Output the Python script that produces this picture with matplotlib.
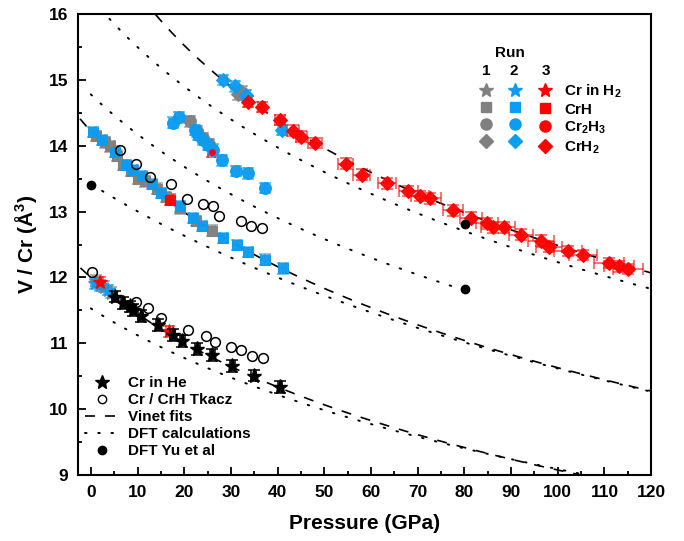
import numpy as np
import matplotlib.pyplot as plt
from matplotlib.lines import Line2D
from matplotlib.ticker import MultipleLocator

plt.rcParams['font.family'] = ['Liberation Sans', 'DejaVu Sans']
plt.rcParams['font.weight'] = 'bold'
plt.rcParams['mathtext.default'] = 'regular'

GREY = '#808080'
BLUE = '#0c9cf0'
RED = '#ff0000'

# Cr in He (black stars)
he_p = [5.1, 6.9, 8.4, 9.1, 10.7, 14.4, 17.5, 19.6, 22.8, 26.0, 30.3, 34.9, 40.5]
he_v = [11.71, 11.61, 11.56, 11.51, 11.42, 11.28, 11.12, 11.04, 10.91, 10.82, 10.66, 10.51, 10.34]

# Tkacz, Cr and CrH (open circles)
tk_cr_p = [0.15, 9.6, 12.3, 15.1, 20.9, 24.6, 26.6, 30.1, 32.1, 34.6, 36.8]
tk_cr_v = [12.08, 11.63, 11.53, 11.39, 11.2, 11.11, 11.02, 10.95, 10.9, 10.8, 10.78]
tk_crh_p = [6.2, 9.6, 12.6, 17.1, 20.5, 24.1, 26.1, 27.5, 32.1, 34.2, 36.6]
tk_crh_v = [13.94, 13.73, 13.52, 13.42, 13.19, 13.11, 13.09, 12.94, 12.86, 12.78, 12.75]

# DFT Yu et al
yu_p = [0.0, 80.1, 80.1]
yu_v = [13.41, 12.81, 11.82]

# Cr in H2 (stars), runs 1-3
cr1_p = [1.2, 2.8, 4.4]
cr1_v = [11.95, 11.86, 11.77]
cr2_p = [0.9, 2.0, 3.7]
cr2_v = [11.91, 11.88, 11.81]
cr3_p = [1.9, 16.8]
cr3_v = [11.93, 11.18]

# CrH (squares)
crh1_p = [1.2, 3.0, 4.1, 5.6, 6.9, 8.5, 10.2, 11.6, 14.1, 16.0, 19.1, 22.5, 25.9]
crh1_v = [14.15, 14.05, 13.99, 13.85, 13.71, 13.62, 13.5, 13.46, 13.35, 13.22, 13.05, 12.86, 12.71]
crh2_p = [0.4, 2.3, 5.1, 7.6, 9.1, 10.9, 13.0, 15.1, 19.1, 21.8, 23.9, 28.4, 31.2, 33.7, 37.3, 41.1]
crh2_v = [14.21, 14.09, 13.91, 13.71, 13.63, 13.54, 13.42, 13.28, 13.08, 12.90, 12.78, 12.6, 12.49, 12.39, 12.27, 12.14]
crh3_p = [16.9]
crh3_v = [13.18]

# Cr2H3 (circles)
c23_1_p = [21.2, 22.8, 24.0, 25.3]
c23_1_v = [14.37, 14.22, 14.12, 14.02]
c23_2_p = [17.5, 18.9, 22.3, 23.0, 24.1, 25.1, 26.2, 28.1, 31.0, 33.7, 37.2]
c23_2_v = [14.35, 14.43, 14.24, 14.16, 14.09, 14.01, 13.94, 13.78, 13.62, 13.58, 13.36]
c23_3_p = [25.9]
c23_3_v = [13.91]

# CrH2 (diamonds)
crh2d1_p = [31.6, 32.4]
crh2d1_v = [14.78, 14.82]
crh2d2_p = [28.4, 30.9, 33.2, 40.9]
crh2d2_v = [15.0, 14.9, 14.77, 14.24]
crh2d3_p = [33.7, 36.6, 40.5, 43.3, 45.1, 48.0, 54.6, 58.0, 63.4, 68.0, 70.5, 72.7, 77.6,
            81.4, 84.8, 86.1, 88.4, 92.1, 96.4, 98.2, 102.1, 105.5, 110.9, 113.2, 115.1]
crh2d3_v = [14.67, 14.59, 14.39, 14.23, 14.14, 14.04, 13.73, 13.56, 13.43, 13.31, 13.24, 13.2, 13.02,
            12.91, 12.82, 12.76, 12.76, 12.65, 12.56, 12.46, 12.4, 12.34, 12.22, 12.17, 12.13]
crh2d3_perr = [0.8, 0.8, 1.0, 1.2, 1.2, 1.5, 1.6, 1.8, 2.0, 2.0, 2.0, 2.2, 2.2,
               2.4, 2.4, 2.5, 2.5, 2.6, 2.8, 2.8, 3.0, 3.0, 3.2, 3.2, 3.2]

# Vinet parameters V0 (A^3), K0 (GPa), K0'
vinet_v0 = [12.0, 14.22, 17.5]
vinet_k0 = [190.0, 180.0, 120.0]
vinet_kp = [4.7, 4.61, 5.6]
# DFT curves (Cr, CrH, Cr2H3, CrH2) + max pressure of each calculation
dft_v0 = [11.53, 13.42, 14.78, 16.25]
dft_k0 = [257.0, 303.0, 218.0, 190.0]
dft_kp = [4.26, 3.0, 4.5, 4.5]
dft_pmax = [130.0, 130.0, 82.0, 130.0]


def vinet_p(v, v0, k0, kp):
    x = (v / v0) ** (1.0 / 3.0)
    return 3.0 * k0 * (1.0 - x) / x ** 2 * np.exp(1.5 * (kp - 1.0) * (1.0 - x))


fig = plt.figure(figsize=(6.84, 5.41), dpi=100)
ax = fig.add_axes([0.114, 0.122, 0.838, 0.852])

for v0, k0, kp in zip(vinet_v0, vinet_k0, vinet_kp):
    v = np.linspace(v0 * 1.03, v0 * 0.65, 600)
    p = vinet_p(v, v0, k0, kp)
    ax.plot(p, v, color='k', lw=1.2, ls=(0, (6, 6)), zorder=2)

for v0, k0, kp, pm in zip(dft_v0, dft_k0, dft_kp, dft_pmax):
    v = np.linspace(v0, v0 * 0.65, 600)
    p = vinet_p(v, v0, k0, kp)
    m = p <= pm
    ax.plot(p[m], v[m], color='k', lw=1.4, ls=(0, (0.8, 6)), dash_capstyle='round', zorder=2)


def run_pts(p, v, marker, color, ms, perr=0.8, verr=0.08):
    ax.errorbar(p, v, xerr=perr, yerr=verr, fmt='none', ecolor=color, elinewidth=1.2,
                capsize=4, capthick=1.2, alpha=0.65, zorder=3)
    ax.plot(p, v, marker, color=color, ms=ms, mec=color, mew=0.8, alpha=0.95, ls='none', zorder=4)


# run 1 (grey), run 2 (blue), run 3 (red)
run_pts(crh1_p, crh1_v, 's', GREY, 7.5)
run_pts(c23_1_p, c23_1_v, 'o', GREY, 8.5)
run_pts(crh2d1_p, crh2d1_v, 'D', GREY, 7.5)
run_pts(cr1_p, cr1_v, '*', GREY, 10)
run_pts(crh2_p, crh2_v, 's', BLUE, 7.5)
run_pts(c23_2_p, c23_2_v, 'o', BLUE, 8.5)
run_pts(crh2d2_p, crh2d2_v, 'D', BLUE, 7.5)
run_pts(cr2_p, cr2_v, '*', BLUE, 10)
run_pts(crh3_p, crh3_v, 's', RED, 7.5)
run_pts(c23_3_p, c23_3_v, 'o', RED, 4)
run_pts(crh2d3_p, crh2d3_v, 'D', RED, 7.5, perr=crh2d3_perr)
run_pts(cr3_p, cr3_v, '*', RED, 10)

ax.errorbar(he_p, he_v, xerr=0.5, yerr=0.09, fmt='none', ecolor='k', elinewidth=1.1,
            capsize=4, capthick=1.1, zorder=5)
ax.plot(he_p, he_v, '*', color='k', ms=11, ls='none', zorder=6)

ax.plot(tk_cr_p, tk_cr_v, 'o', mfc='none', mec='k', mew=1.1, ms=7, ls='none', zorder=6)
ax.plot(tk_crh_p, tk_crh_v, 'o', mfc='none', mec='k', mew=1.1, ms=7, ls='none', zorder=6)
ax.plot(yu_p, yu_v, 'o', color='k', ms=6, ls='none', zorder=6, clip_on=False)

ax.set_xlim(-2.75, 120)
ax.set_ylim(9, 16)
ax.xaxis.set_major_locator(MultipleLocator(10))
ax.xaxis.set_minor_locator(MultipleLocator(5))
ax.yaxis.set_major_locator(MultipleLocator(1))
ax.yaxis.set_minor_locator(MultipleLocator(0.5))
ax.tick_params(which='both', direction='in', width=1.3, labelsize=12.5, pad=7)
ax.tick_params(which='major', length=6)
ax.tick_params(which='minor', length=3)
for s in ax.spines.values():
    s.set_linewidth(1.5)
for lab in ax.get_xticklabels() + ax.get_yticklabels():
    lab.set_fontweight('bold')

ax.set_xlabel('Pressure (GPa)', fontsize=15, fontweight='bold', labelpad=10)
ax.set_ylabel('V / Cr (Å$^3$)', fontsize=15, fontweight='bold', labelpad=7)

# run legend
run_handles = []
for col in (GREY, BLUE, RED):
    for mk, ms in (('*', 10), ('s', 7), ('o', 8), ('D', 7)):
        run_handles.append(Line2D([], [], marker=mk, color=col, ms=ms, ls='none'))
run_labels = [''] * 8 + ['Cr in H$_2$', 'CrH', 'Cr$_2$H$_3$', 'CrH$_2$']
leg1 = ax.legend(run_handles, run_labels, ncol=3, loc='upper left', bbox_to_anchor=(0.674, 0.882),
                 frameon=False, handlelength=1.0, handletextpad=0.75,
                 columnspacing=0.2, labelspacing=0.2, prop={'weight': 'bold', 'size': 11})
ax.add_artist(leg1)
ax.text(0.754, 0.915, 'Run', transform=ax.transAxes, ha='center', va='center', fontsize=11, fontweight='bold')
for txt, xx in (('1', 0.712), ('2', 0.761), ('3', 0.817)):
    ax.text(xx, 0.876, txt, transform=ax.transAxes, ha='center', va='center', fontsize=11, fontweight='bold')

# reference legend
ref_handles = [
    Line2D([], [], marker='*', color='k', ms=10, ls='none'),
    Line2D([], [], marker='o', mfc='none', mec='k', ms=6, ls='none'),
    Line2D([], [], color='k', lw=1.2, ls=(0, (6, 6))),
    Line2D([], [], color='k', lw=1.4, ls=(0, (0.8, 6)), dash_capstyle='round'),
    Line2D([], [], marker='o', color='k', ms=6, ls='none'),
]
ref_labels = ['Cr in He', 'Cr / CrH Tkacz', 'Vinet fits', 'DFT calculations', 'DFT Yu et al']
ax.legend(ref_handles, ref_labels, loc='lower left', bbox_to_anchor=(-0.012, 0.006), frameon=False,
          handlelength=2.3, handletextpad=0.5, labelspacing=0.2, prop={'weight': 'bold', 'size': 11})

fig.savefig('out.png', dpi=100)
